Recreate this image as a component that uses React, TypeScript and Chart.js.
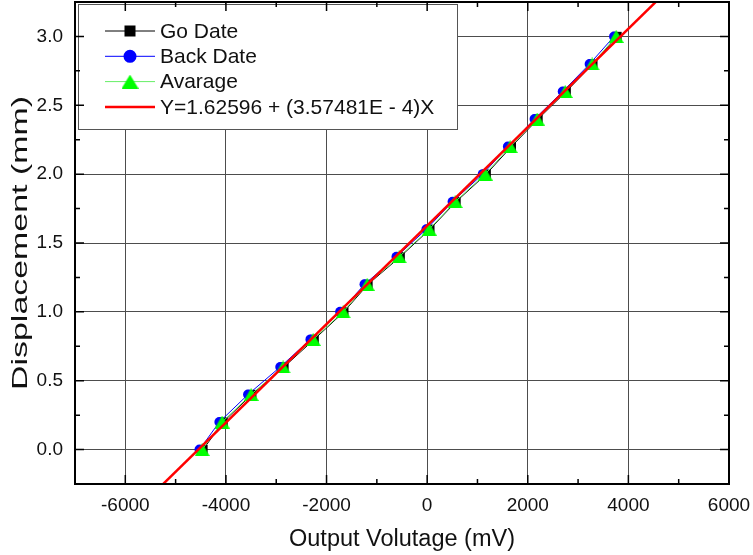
import { useEffect, useRef } from "react";
import { Chart, registerables } from "chart.js";

Chart.register(...registerables);

// ---- data ----
const displacement = [0, 0.2, 0.4, 0.6, 0.8, 1.0, 1.2, 1.4, 1.6, 1.8, 2.0, 2.2, 2.4, 2.6, 2.8, 3.0];
const goDate = [-4455, -4055, -3485, -2845, -2245, -1655, -1175, -535, 55, 575, 1175, 1675, 2205, 2765, 3295, 3775];
const backDate = [-4525, -4130, -3560, -2920, -2320, -1730, -1245, -610, -15, 505, 1105, 1605, 2135, 2695, 3230, 3715];
const avarage = [-4473, -4076, -3500, -2863, -2266, -1670, -1193, -557, 40, 557, 1153, 1650, 2187, 2744, 3280, 3757];
const fitIntercept = 1.62596;
const fitSlope = 3.57481e-4;
const fitXRange = [-5400, 4700];

const seriesLabels = ["Go Date", "Back Date", "Avarage", "Y=1.62596 + (3.57481E - 4)X"];
const xTitle = "Output Volutage (mV)";
const yTitle = "Displacement (mm)";
const xMin = -7000, xMax = 6000, xStep = 1000, xMajor = 2000;
const yMin = -0.25, yMax = 3.25, yStep = 0.25, yMajor = 0.5;

const FONT = "'Liberation Sans', Arial, sans-serif";

const isMajor = (v: number, m: number) => Math.abs(v / m - Math.round(v / m)) < 1e-6;

function makeTriangle(w: number, h: number, color: string): HTMLCanvasElement {
  const c = document.createElement("canvas");
  c.width = w;
  c.height = h;
  const g = c.getContext("2d")!;
  g.fillStyle = color;
  g.beginPath();
  g.moveTo(w / 2, 0);
  g.lineTo(w, h);
  g.lineTo(0, h);
  g.closePath();
  g.fill();
  return c;
}

const zeroPad = (s: any) => {
  s.paddingTop = 0;
  s.paddingBottom = 0;
  s.paddingLeft = 0;
  s.paddingRight = 0;
};

function makeDecor(legendTri: HTMLCanvasElement) {
  return {
    id: "decor",
    afterDraw(chart: any) {
      const { ctx, chartArea: a, scales } = chart;
      const xs = scales.x, ys = scales.y;
      ctx.save();

      // legend box
      const lx = a.left + 3, ly = a.top + 2, lw = 379, lh = 125;
      ctx.fillStyle = "#ffffff";
      ctx.fillRect(lx, ly, lw, lh);
      ctx.strokeStyle = "#555555";
      ctx.lineWidth = 1;
      ctx.strokeRect(lx + 0.5, ly + 0.5, lw, lh);
      seriesLabels.forEach((label, i) => {
        const ds = chart.data.datasets.find((d: any) => d.label === label);
        if (!ds) return;
        const cy = ly + 27 + i * 25.3;
        const x1 = lx + 27, x2 = lx + 77, mx = (x1 + x2) / 2;
        ctx.strokeStyle = ds.borderColor;
        ctx.lineWidth = ds.borderWidth;
        ctx.beginPath();
        ctx.moveTo(x1, cy);
        ctx.lineTo(x2, cy);
        ctx.stroke();
        ctx.fillStyle = ds.pointBackgroundColor;
        if (ds.pointStyle === "rect") {
          ctx.fillRect(mx - 5.5, cy - 5.5, 11, 11);
        } else if (ds.pointStyle === "circle") {
          ctx.beginPath();
          ctx.arc(mx, cy, 6.5, 0, Math.PI * 2);
          ctx.fill();
        } else if (ds.pointRadius > 0) {
          ctx.drawImage(legendTri, mx - legendTri.width / 2, cy - legendTri.height / 2);
        }
        ctx.fillStyle = "#111111";
        ctx.font = `21px ${FONT}`;
        ctx.textAlign = "left";
        ctx.textBaseline = "middle";
        ctx.fillText(label, x2 + 5, cy + 1);
      });

      // inside ticks on all four sides
      ctx.strokeStyle = "#000000";
      ctx.lineWidth = 1.5;
      xs.ticks.forEach((t: any) => {
        const px = xs.getPixelForValue(t.value);
        const len = isMajor(t.value, xMajor) ? 9 : 5;
        ctx.beginPath();
        ctx.moveTo(px, a.bottom);
        ctx.lineTo(px, a.bottom - len);
        ctx.moveTo(px, a.top);
        ctx.lineTo(px, a.top + len);
        ctx.stroke();
      });
      ys.ticks.forEach((t: any) => {
        const py = ys.getPixelForValue(t.value);
        const len = isMajor(t.value, yMajor) ? 9 : 5;
        ctx.beginPath();
        ctx.moveTo(a.left, py);
        ctx.lineTo(a.left + len, py);
        ctx.moveTo(a.right, py);
        ctx.lineTo(a.right - len, py);
        ctx.stroke();
      });

      // frame
      ctx.lineWidth = 2;
      ctx.strokeRect(a.left, a.top, a.right - a.left, a.bottom - a.top);

      // y title (elongated along its reading direction like the reference)
      ctx.font = `22px ${FONT}`;
      ctx.fillStyle = "#111111";
      const w = ctx.measureText(yTitle).width;
      const sx = 294 / w;
      ctx.translate(21, (a.top + a.bottom) / 2);
      ctx.rotate(-Math.PI / 2);
      ctx.scale(sx, 1);
      ctx.textAlign = "center";
      ctx.textBaseline = "middle";
      ctx.fillText(yTitle, 0, 0);
      ctx.restore();
    },
  };
}

export default function App() {
  const ref = useRef<HTMLCanvasElement | null>(null);

  useEffect(() => {
    if (!ref.current) return;
    const toPts = (xs: number[]) => xs.map((x, i) => ({ x, y: displacement[i] }));
    const fitPts = fitXRange.map((x) => ({ x, y: fitIntercept + fitSlope * x }));
    const tri = makeTriangle(15, 13, "#00ff00");
    const legendTri = makeTriangle(17, 14, "#00ff00");

    const chart = new Chart(ref.current, {
      type: "scatter",
      data: {
        datasets: [
          {
            label: seriesLabels[3],
            data: fitPts,
            showLine: true,
            borderColor: "#ff0000",
            backgroundColor: "#ff0000",
            borderWidth: 2.5,
            pointRadius: 0,
            clip: 0,
          },
          {
            label: seriesLabels[2],
            data: toPts(avarage),
            showLine: true,
            borderColor: "#66ee66",
            borderWidth: 1,
            pointStyle: tri,
            pointRadius: 7,
            pointBackgroundColor: "#00ff00",
            pointBorderColor: "#00ff00",
            pointBorderWidth: 0,
            clip: 0,
          },
          {
            label: seriesLabels[1],
            data: toPts(backDate),
            showLine: true,
            borderColor: "#0000ff",
            borderWidth: 1,
            pointStyle: "circle",
            pointRadius: 5,
            pointBackgroundColor: "#0000ff",
            pointBorderColor: "#0000ff",
            pointBorderWidth: 0,
            clip: 0,
          },
          {
            label: seriesLabels[0],
            data: toPts(goDate),
            showLine: true,
            borderColor: "#000000",
            borderWidth: 1,
            pointStyle: "rect",
            pointRadius: 6.5,
            pointBackgroundColor: "#000000",
            pointBorderColor: "#000000",
            pointBorderWidth: 0,
            clip: 0,
          },
        ],
      },
      options: {
        animation: false,
        responsive: false,
        maintainAspectRatio: false,
        events: [],
        layout: { autoPadding: false, padding: { left: 0, right: 24, top: 2, bottom: 0 } },
        plugins: { legend: { display: false }, tooltip: { enabled: false } },
        scales: {
          x: {
            type: "linear",
            min: xMin,
            max: xMax,
            afterFit: (s: any) => {
              s.height = 71;
              zeroPad(s);
            },
            border: { display: false },
            grid: {
              drawTicks: false,
              color: (c: any) => (c.tick && isMajor(c.tick.value, xMajor) ? "#4d4d4d" : "rgba(0,0,0,0)"),
              lineWidth: 1,
            },
            ticks: {
              stepSize: xStep,
              autoSkip: false,
              maxRotation: 0,
              padding: 10,
              color: "#111111",
              font: { family: FONT, size: 19 },
              callback: (v: any) => (isMajor(Number(v), xMajor) ? String(v) : ""),
            },
            title: {
              display: true,
              text: xTitle,
              color: "#111111",
              font: { family: FONT, size: 23.5 },
              padding: { top: 0, bottom: 1 },
            },
          },
          y: {
            type: "linear",
            min: yMin,
            max: yMax,
            afterFit: (s: any) => {
              s.width = 75;
              zeroPad(s);
            },
            border: { display: false },
            grid: {
              drawTicks: false,
              color: (c: any) => (c.tick && isMajor(c.tick.value, yMajor) ? "#4d4d4d" : "rgba(0,0,0,0)"),
              lineWidth: 1,
            },
            ticks: {
              stepSize: yStep,
              autoSkip: false,
              padding: 12,
              color: "#111111",
              font: { family: FONT, size: 19 },
              callback: (v: any) => (isMajor(Number(v), yMajor) ? Number(v).toFixed(1) : ""),
            },
          },
        },
      },
      plugins: [makeDecor(legendTri)],
    } as any);
    return () => chart.destroy();
  }, []);

  return (
    <div style={{ position: "fixed", left: 0, top: 0, width: 753, height: 555, background: "#ffffff" }}>
      <canvas ref={ref} width={753} height={555} style={{ width: 753, height: 555, display: "block" }} />
    </div>
  );
}
